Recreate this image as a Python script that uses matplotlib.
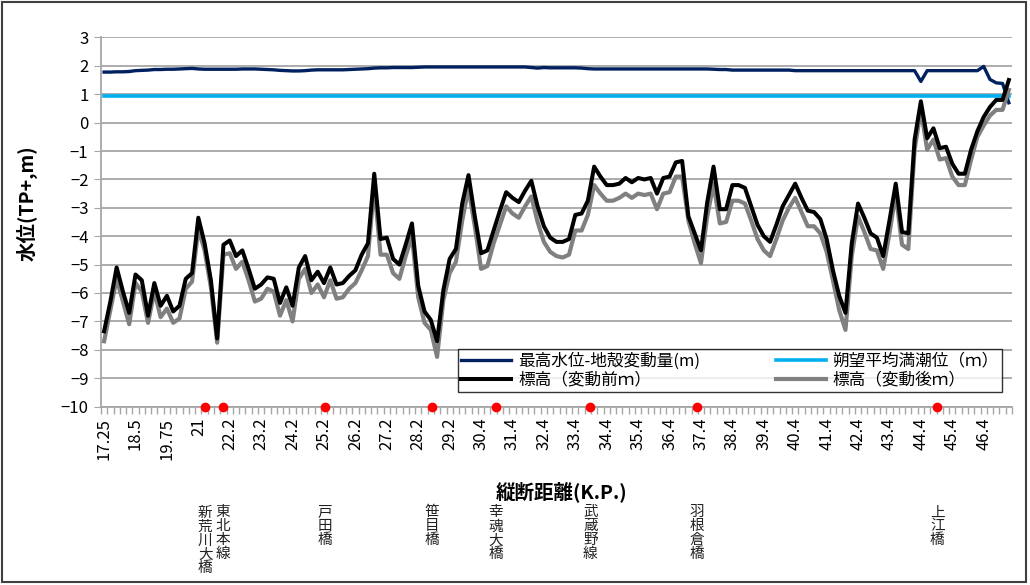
import numpy as np
import matplotlib
matplotlib.use("Agg")
from matplotlib import pyplot as plt
from matplotlib.patches import Rectangle
import matplotlib.transforms as mtransforms

plt.rcParams['font.family'] = ['Noto Sans CJK JP', 'DejaVu Sans']

# data (one value per survey section)
max_level = [1.78, 1.78, 1.79, 1.79, 1.80, 1.83, 1.84, 1.85, 1.87, 1.87,
             1.88, 1.88, 1.89, 1.90, 1.91, 1.89, 1.88, 1.88, 1.88, 1.88,
             1.88, 1.88, 1.89, 1.89, 1.89, 1.88, 1.87, 1.86, 1.84, 1.83,
             1.82, 1.82, 1.83, 1.85, 1.86, 1.86, 1.86, 1.86, 1.86, 1.87,
             1.88, 1.89, 1.90, 1.92, 1.93, 1.93, 1.94, 1.94, 1.94, 1.94,
             1.95, 1.96, 1.96, 1.96, 1.96, 1.96, 1.96, 1.96, 1.96, 1.96,
             1.96, 1.96, 1.96, 1.96, 1.96, 1.96, 1.96, 1.96, 1.94, 1.92,
             1.94, 1.93, 1.93, 1.93, 1.93, 1.93, 1.92, 1.90, 1.89, 1.89,
             1.89, 1.89, 1.89, 1.89, 1.89, 1.89, 1.89, 1.89, 1.89, 1.89,
             1.89, 1.89, 1.89, 1.89, 1.89, 1.89, 1.89, 1.88, 1.87, 1.87,
             1.85, 1.85, 1.85, 1.85, 1.85, 1.85, 1.85, 1.85, 1.85, 1.85,
             1.83, 1.83, 1.83, 1.83, 1.83, 1.83, 1.83, 1.83, 1.83, 1.83,
             1.83, 1.83, 1.83, 1.83, 1.83, 1.83, 1.83, 1.83, 1.83, 1.83,
             1.45, 1.83, 1.83, 1.83, 1.83, 1.83, 1.83, 1.83, 1.83, 1.83,
             1.98, 1.52, 1.40, 1.38, 0.70]

spring_tide = 0.95

elev_before = [-7.35, -6.30, -5.10, -5.95, -6.70, -5.35, -5.55, -6.80, -5.65, -6.45,
               -6.10, -6.65, -6.45, -5.50, -5.30, -3.35, -4.25, -5.55, -7.60, -4.30,
               -4.15, -4.70, -4.50, -5.15, -5.85, -5.70, -5.45, -5.50, -6.35, -5.80,
               -6.45, -5.10, -4.70, -5.55, -5.25, -5.65, -5.10, -5.70, -5.65, -5.40,
               -5.20, -4.65, -4.25, -1.80, -4.10, -4.05, -4.80, -5.00, -4.30, -3.55,
               -5.75, -6.65, -6.95, -7.70, -5.90, -4.80, -4.45, -2.85, -1.85, -3.30,
               -4.60, -4.50, -3.80, -3.10, -2.45, -2.65, -2.80, -2.40, -2.05, -2.95,
               -3.65, -4.05, -4.20, -4.20, -4.10, -3.25, -3.20, -2.75, -1.55, -1.90,
               -2.20, -2.20, -2.15, -1.95, -2.10, -1.95, -2.00, -1.95, -2.50, -1.95,
               -1.90, -1.40, -1.35, -3.30, -3.90, -4.50, -2.80, -1.55, -3.05, -3.05,
               -2.20, -2.20, -2.30, -2.95, -3.60, -4.00, -4.20, -3.60, -2.95, -2.55,
               -2.15, -2.65, -3.10, -3.15, -3.40, -4.10, -5.20, -6.10, -6.70, -4.25,
               -2.85, -3.35, -3.90, -4.05, -4.70, -3.45, -2.15, -3.85, -3.90, -0.60,
               0.75, -0.55, -0.20, -0.90, -0.85, -1.45, -1.80, -1.80, -0.95, -0.30,
               0.20, 0.55, 0.80, 0.80, 1.50]

elev_after = [-7.70, -6.60, -5.50, -6.30, -7.10, -5.65, -5.95, -7.05, -5.95, -6.85,
              -6.55, -7.05, -6.90, -5.85, -5.60, -3.75, -4.50, -5.80, -7.75, -4.65,
              -4.60, -5.15, -4.90, -5.55, -6.30, -6.20, -5.85, -5.95, -6.80, -6.25,
              -7.00, -5.50, -5.15, -6.00, -5.70, -6.15, -5.55, -6.20, -6.15, -5.85,
              -5.65, -5.20, -4.70, -2.25, -4.65, -4.65, -5.30, -5.50, -4.70, -4.00,
              -6.15, -7.05, -7.30, -8.25, -6.25, -5.30, -4.90, -3.45, -2.30, -3.65,
              -5.15, -5.05, -4.25, -3.60, -2.95, -3.20, -3.35, -2.95, -2.60, -3.50,
              -4.20, -4.55, -4.70, -4.75, -4.65, -3.80, -3.80, -3.25, -2.20, -2.50,
              -2.75, -2.75, -2.65, -2.50, -2.65, -2.50, -2.55, -2.50, -3.05, -2.50,
              -2.45, -1.90, -1.90, -3.45, -4.25, -4.95, -3.30, -2.15, -3.55, -3.50,
              -2.75, -2.75, -2.85, -3.45, -4.10, -4.50, -4.70, -4.10, -3.45, -3.00,
              -2.65, -3.15, -3.65, -3.65, -3.90, -4.55, -5.55, -6.60, -7.30, -4.70,
              -3.30, -3.85, -4.45, -4.50, -5.15, -3.90, -2.50, -4.30, -4.45, -0.95,
              0.45, -0.95, -0.60, -1.30, -1.25, -1.90, -2.20, -2.20, -1.30, -0.50,
              -0.10, 0.25, 0.45, 0.45, 1.15]

kp_labels = ["17.25", "18.5", "19.75", "21", "22.2", "23.2", "24.2", "25.2",
             "26.2", "27.2", "28.2", "29.2", "30.4", "31.4", "32.4", "33.4",
             "34.4", "35.4", "36.4", "37.4", "38.4", "39.4", "40.4", "41.4",
             "42.4", "43.4", "44.4", "45.4", "46.4"]

bridge_names = ["新荒川大橋", "東北本線", "戸田橋", "笹目橋", "幸魂大橋",
                "武蔵野線", "羽根倉橋", "上江橋"]
bridge_pos = [16.1, 18.9, 35.2, 52.2, 62.3, 77.4, 94.4, 132.6]

n = len(elev_before)
x = np.arange(n)

fig = plt.figure(figsize=(10.3, 5.85), dpi=100)
ax = fig.add_axes([0.098, 0.305, 0.8845, 0.631])

ax.plot(x, max_level, color='#002060', lw=2.4, label='最高水位-地殻変動量(m)', zorder=4)
ax.plot(x, elev_before, color='black', lw=2.9, label='標高（変動前ｍ）', zorder=5)
ax.plot(x, [spring_tide] * n, color='#00B0F0', lw=2.6, label='朔望平均満潮位（ｍ）', zorder=3)
ax.plot(x, elev_after, color='#808080', lw=3.0, label='標高（変動後ｍ）', zorder=4)

ax.scatter(bridge_pos, [-10] * len(bridge_pos), s=36, color='#FF0000', zorder=6, clip_on=False)

ax.set_xlim(-0.5, n - 0.5)
ax.set_ylim(-10, 3)
ax.set_yticks(range(-10, 4))
ax.yaxis.grid(True, color='#A6A6A6', lw=1.3)
ax.set_axisbelow(True)
ax.tick_params(axis='y', labelsize=12, length=5, color='#A6A6A6', pad=4)

ax.set_xticks(x[::5])
ax.set_xticklabels(kp_labels, rotation=90, fontsize=12)
ax.set_xticks(np.arange(-0.5, n, 1), minor=True)
ax.tick_params(axis='x', which='major', length=0, pad=8)
ax.tick_params(axis='x', which='minor', length=5, color='#A6A6A6', width=1)

for s in ['top', 'right']:
    ax.spines[s].set_visible(False)
for s in ['left', 'bottom']:
    ax.spines[s].set_color('#A6A6A6')
    ax.spines[s].set_linewidth(1.3)

ax.set_ylabel('水位(TP+,m)', fontsize=14, fontweight='bold')
ax.yaxis.set_label_coords(-0.069, 0.55)
fig.text(0.545, 0.16, '縦断距離(K.P.)', fontsize=14, fontweight='bold',
         ha='center', va='center')

trans = mtransforms.blended_transform_factory(ax.transData, fig.transFigure)
for name, pos in zip(bridge_names, bridge_pos):
    ax.text(pos, 0.136, '\n'.join(name), transform=trans, ha='center', va='top',
            fontsize=10.5, linespacing=1.0, color='#222222')

leg = ax.legend(loc='lower left', bbox_to_anchor=(0.392, 0.039, 0.597, 0.128),
                mode='expand', ncol=2, fontsize=12, frameon=True, fancybox=False,
                handlelength=3.0, borderaxespad=0, borderpad=0.2,
                labelspacing=0.15, handletextpad=0.4, columnspacing=0.5)
leg.get_frame().set_edgecolor('black')
leg.get_frame().set_linewidth(1.0)
leg.set_zorder(10)

fig.patches.append(Rectangle((0.002, 0.005), 0.994, 0.992, transform=fig.transFigure,
                             fill=False, edgecolor='#404040', lw=1.5))

fig.savefig('out.png', dpi=100)
